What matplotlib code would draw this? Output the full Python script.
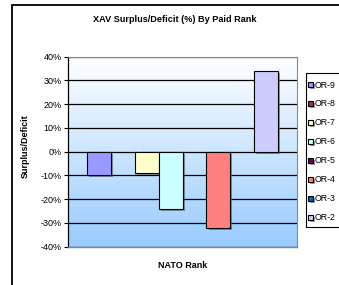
import numpy as np
import matplotlib
matplotlib.use("Agg")
import matplotlib.pyplot as plt
from matplotlib.patches import Rectangle
from matplotlib.colors import LinearSegmentedColormap
import matplotlib.patheffects as pe

plt.rcParams['font.family'] = ['Liberation Sans', 'DejaVu Sans']

series = ["OR-9", "OR-8", "OR-7", "OR-6", "OR-5", "OR-4", "OR-3", "OR-2"]
values = [-10, np.nan, -9, -24, np.nan, -32, np.nan, 34]
colors = ["#9999FF", "#993366", "#FFFFCC", "#CCFFFF", "#660066", "#FF8080", "#0066CC", "#CCCCFF"]
yticks = [-40, -30, -20, -10, 0, 10, 20, 30, 40]

W, H = 339, 285
fig = plt.figure(figsize=(W / 100, H / 100), dpi=100)
fig.patch.set_facecolor("white")

# outer chart border
fig.add_artist(Rectangle((12 / W, -0.1), 1.2, 1 - 5 / H + 0.1, transform=fig.transFigure,
                         fill=False, edgecolor="black", linewidth=1.3))

ax = fig.add_axes([68 / W, 1 - 246.7 / H, (297 - 68) / W, (246.7 - 56.6) / H])

# gradient background
cmap = LinearSegmentedColormap.from_list("bg", ["#FFFFFF", "#99CCFF"])
grad = np.linspace(0, 1, 256).reshape(-1, 1)
ax.imshow(grad, aspect="auto", cmap=cmap, extent=[0, 1, 0, 1], transform=ax.transAxes, zorder=0)

gap = 0.78
x = np.arange(len(series))
for xi, v, c, s in zip(x, values, colors, series):
    ax.bar(xi, v, width=1.0, color=c, edgecolor="black", linewidth=0.8, label=s, zorder=3,
           path_effects=[pe.SimplePatchShadow(offset=(1.5, -1.5), shadow_rgbFace="#555555", alpha=0.6), pe.Normal()])

for t in yticks:
    ax.axhline(t, color="black", linewidth=0.9, zorder=2)

ax.set_xlim(-0.5 - gap, len(series) - 0.5 + gap)
ax.set_ylim(-40, 40)
ax.set_yticks(yticks)
ax.set_yticklabels([f"{t}%" for t in yticks], fontsize=6.5)
ax.tick_params(axis="y", length=3, width=0.8, pad=1.5, color="black")
ax.set_xticks([])

for side in ["top", "right"]:
    ax.spines[side].set_color("#888888")
    ax.spines[side].set_linewidth(0.8)
ax.spines["left"].set_color("black")
ax.spines["left"].set_linewidth(0.9)
ax.spines["bottom"].set_color("#888888")
ax.spines["bottom"].set_linewidth(1.0)

ax.set_ylabel("Surplus/Deficit", fontsize=6.5, fontweight="bold", labelpad=3)
ax.yaxis.set_label_coords(-0.165, 0.53)
ax.set_xlabel("NATO Rank", fontsize=6.5, fontweight="bold", labelpad=10)

fig.text(175 / W, 1 - 20 / H, "XAV Surplus/Deficit (%) By Paid Rank", fontsize=6.6, fontweight="bold",
         ha="center", va="center")

# legend frame drawn separately for tight horizontal padding
fig.add_artist(Rectangle((306 / W, 1 - 227 / H), 0.2, (227 - 73) / H, transform=fig.transFigure,
                         facecolor="white", edgecolor="black", linewidth=0.8, zorder=4))
leg = ax.legend(loc="upper left", bbox_to_anchor=(308 / W, 1 - 80.5 / H), bbox_transform=fig.transFigure,
                fontsize=6.3, frameon=False,
                handlelength=0.55, handleheight=0.55, handletextpad=0.25, labelspacing=1.14,
                borderpad=0, borderaxespad=0)
leg.remove()
leg.set_zorder(5)
fig.add_artist(leg)

fig.savefig("out.png", dpi=100)
